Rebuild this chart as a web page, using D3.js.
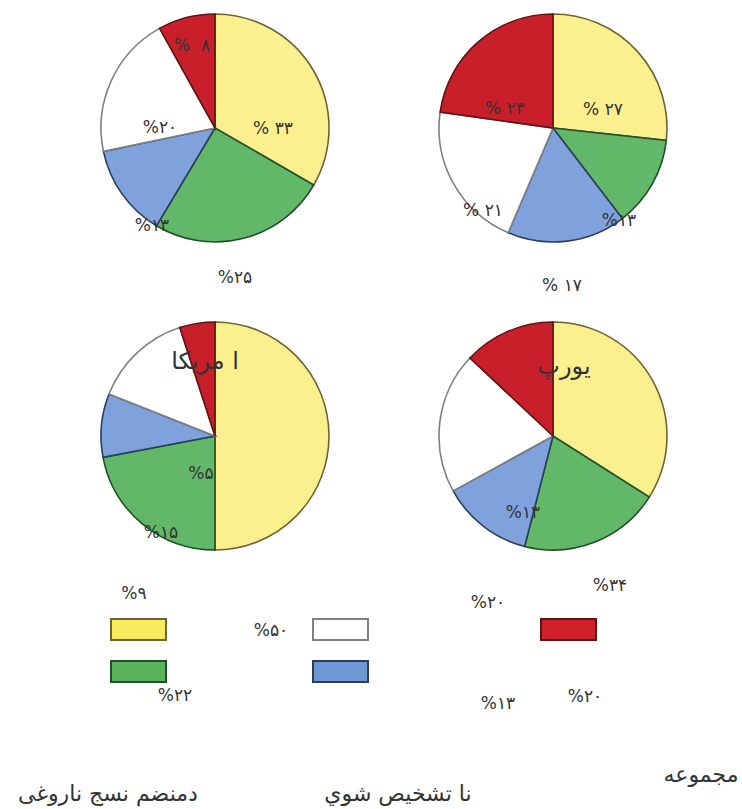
<!DOCTYPE html>
<html>
<head>
<meta charset="utf-8">
<script src="https://cdn.jsdelivr.net/npm/d3@7/dist/d3.min.js"></script>
<style>
body{margin:0;background:#fff;}
text{font-family:"DejaVu Sans",sans-serif;fill:#333;}
</style>
</head>
<body>
<div id="plot" style="width:742px;height:809px;"></div>
<script>
//categories, in clockwise order from 12 o'clock
var categories = ['yellow','green','blue','white','red'];

//slice values (percent) for each pie
var pieTopLeft = [33,25,13,20,8];
var pieTopRight = [27,13,17,21,23];
var pieBottomLeft = [50,22,9,14,5];
var pieBottomRight = [34,20,13,20,13];

//pie titles
var pieTitles = ['','','ا مریکا','یورپ'];

//floating labels as they sit on the page
var labelTexts = ['% ۳۳','%۲۰','%۱۳','%  ۸','%۲۵',
	'% ۲۷','% ۲۳','% ۲۱','%۱۳','% ۱۷',
	'%۵','%۱۵','%۱۳',
	'%۹','%۵۰','%۲۲','%۳۴','%۲۰','%۲۰','%۱۳'];

//bottom captions
var captions = ['مجموعه','نا تشخیص شوي','دمنضم نسج ناروغی'];

//---- layout & styles ----
var width = 742, height = 809;
var svg = d3.select('#plot').append('svg')
	.attr('width',width)
	.attr('height',height);

var fills = {yellow:'#fcf08e',green:'#62b868',blue:'#7fa2dc',white:'#ffffff',red:'#c81f2a'};
var strokes = {yellow:'#6e6433',green:'#1e5129',blue:'#2b3c5c',white:'#808080',red:'#5e1414'};
var legendFills = {yellow:'#f7ea5c',green:'#5cb35c',blue:'#6f97d4',white:'#ffffff',red:'#d0202a'};

var col = d3.scaleOrdinal().domain([0,1]).range([215,553]);
var row = d3.scaleOrdinal().domain([0,1]).range([128,436]);
var radius = 114;

var pies = [pieTopLeft,pieTopRight,pieBottomLeft,pieBottomRight];
var pie = d3.pie().sort(null).value(function(d){return d;});
var arc = d3.arc().innerRadius(0).outerRadius(radius);

pies.forEach(function(values, i){
	var g = svg.append('g')
		.attr('transform','translate('+col(i%2)+','+row(Math.floor(i/2))+')');
	g.selectAll('path')
		.data(pie(values))
		.enter()
		.append('path')
		.attr('d',arc)
		.style('fill',function(d,j){return fills[categories[j]];})
		.style('stroke',function(d,j){return strokes[categories[j]];})
		.style('stroke-width',1.6);
});

//titles inside lower pies
var titlePos = [null,null,[205,369],[564,374]];
pieTitles.forEach(function(t,i){
	if(!t) return;
	svg.append('text')
		.attr('x',titlePos[i][0])
		.attr('y',titlePos[i][1])
		.attr('text-anchor','middle')
		.style('font-size','24px')
		.text(t);
});

//legend swatches
var legendPos = {yellow:[111,619],green:[111,661],white:[313,619],blue:[313,661],red:[541,619]};
categories.forEach(function(c){
	svg.append('rect')
		.attr('x',legendPos[c][0])
		.attr('y',legendPos[c][1])
		.attr('width',55)
		.attr('height',21)
		.style('fill',legendFills[c])
		.style('stroke',strokes[c])
		.style('stroke-width',2);
});

//floating labels
var labelPos = [[273,128],[160,127],[152,225],[192,45],[235,277],
	[603,109],[505,108],[483,210],[619,220],[562,285],
	[201,473],[161,532],[523,512],
	[134,593],[271,630],[175,695],[610,585],[488,602],[585,696],[498,703]];
labelTexts.forEach(function(t,i){
	svg.append('text')
		.attr('x',labelPos[i][0])
		.attr('y',labelPos[i][1]+6)
		.attr('text-anchor','middle')
		.style('font-size','17px')
		.style('white-space','pre')
		.text(t);
});

//captions
var captionPos = [[701,782],[398,801],[108,801]];
captions.forEach(function(t,i){
	svg.append('text')
		.attr('x',captionPos[i][0])
		.attr('y',captionPos[i][1])
		.attr('text-anchor','middle')
		.style('font-size','22px')
		.text(t);
});
</script>
</body>
</html>
